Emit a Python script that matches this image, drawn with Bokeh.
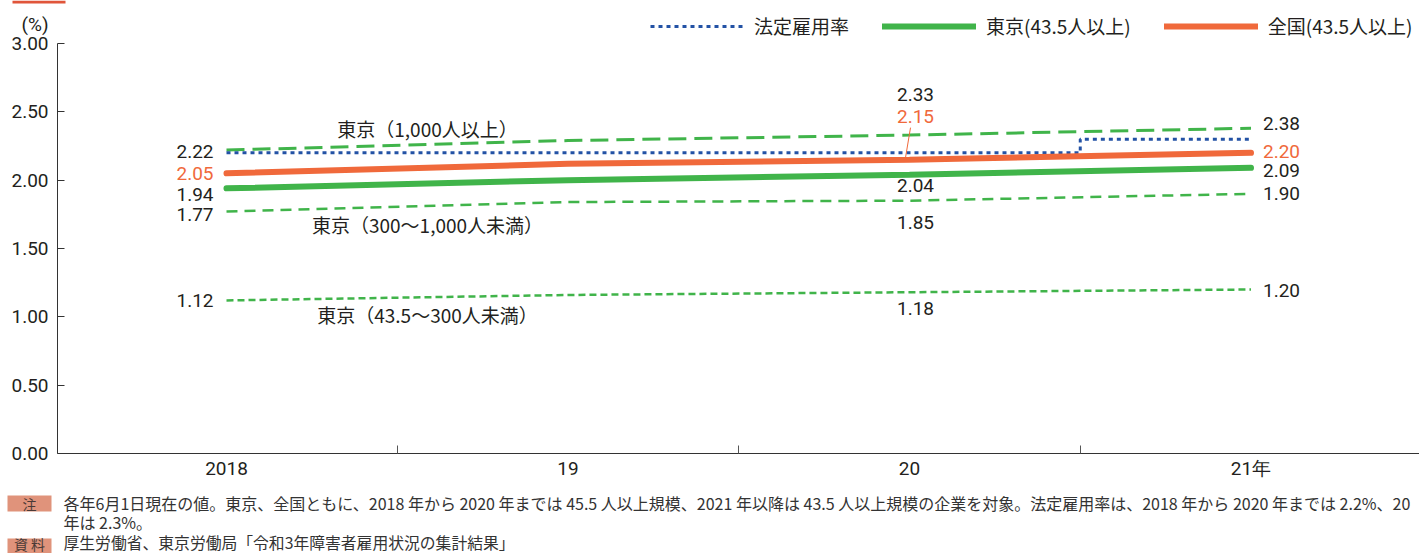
from bokeh.plotting import figure
from bokeh.models import Range1d, FixedTicker, Label, Legend, LegendItem
from bokeh.core.properties import value
from bokeh.embed import file_html
from bokeh.resources import INLINE

# ---------------- data ----------------
years = [2018, 2019, 2020, 2021]
year_labels = ["2018", "19", "20", "21年"]
legal_rate = [2.2, 2.2, 2.2, 2.3]          # 法定雇用率
tokyo_all = [1.94, 2.00, 2.04, 2.09]        # 東京(43.5人以上)
national_all = [2.05, 2.12, 2.15, 2.20]     # 全国(43.5人以上)
tokyo_1000 = [2.22, 2.29, 2.33, 2.38]       # 東京（1,000人以上）
tokyo_300_1000 = [1.77, 1.84, 1.85, 1.90]   # 東京（300～1,000人未満）
tokyo_43_300 = [1.12, 1.16, 1.18, 1.20]     # 東京（43.5～300人未満）
y_ticks = [0.0, 0.5, 1.0, 1.5, 2.0, 2.5, 3.0]
labeled_idx = [0, 2, 3]

legend_names = ["法定雇用率", "東京(43.5人以上)", "全国(43.5人以上)"]
series_names = ["東京（1,000人以上）", "東京（300～1,000人未満）", "東京（43.5～300人未満）"]
note_text_1 = ("各年6月1日現在の値。東京、全国ともに、2018 年から 2020 年までは 45.5 人以上規模、"
               "2021 年以降は 43.5 人以上規模の企業を対象。法定雇用率は、2018 年から 2020 年までは 2.2%、20")
note_text_2 = "年は 2.3%。"
source_text = "厚生労働省、東京労働局「令和3年障害者雇用状況の集計結果」"

# ---------------- style / layout ----------------
GREEN = "#40b44a"
ORANGE = "#f0693b"
BLUE = "#2352a5"
TXT = "#231f20"
NOTE = "#333333"
BOXC = "#e0937b"
NUM_FONT = "Roboto"
JP_FONT = "Noto Sans CJK JP"

W, H = 1419, 553
AXIS_X, AXIS_Y = 57, 453          # pixel position of the y axis line / x axis line
px_per_year = 341.5
px_per_unit = 410 / 3.0
X_AT_AXIS = 2018 - 169 / px_per_year


def dx(px):
    return X_AT_AXIS + (px - AXIS_X) / px_per_year


def dy(py):
    return (AXIS_Y - py) / px_per_unit


p = figure(width=W, height=H, output_backend="svg", toolbar_location=None,
           x_range=Range1d(dx(0), dx(W)), y_range=Range1d(dy(H), dy(0)),
           min_border_left=0, min_border_right=0, min_border_top=0, min_border_bottom=0)
p.outline_line_color = None
p.grid.visible = False
p.background_fill_color = "white"
p.border_fill_color = "white"

# axes (fixed inside the full-canvas frame)
ya = p.yaxis[0]
ya.fixed_location = dx(AXIS_X)
ya.ticker = FixedTicker(ticks=y_ticks)
ya.bounds = (0, 3)
ya.major_label_overrides = {t: f"{t:.2f}" for t in y_ticks}
ya.major_tick_in = 7
ya.major_tick_out = 0
ya.minor_tick_line_color = None
ya.major_label_standoff = 9
ya.axis_line_color = "#333333"
ya.major_tick_line_color = "#333333"
ya.major_label_text_font = NUM_FONT
ya.major_label_text_font_size = "19px"
ya.major_label_text_color = TXT

xa = p.xaxis[0]
xa.fixed_location = 0
xa.bounds = (dx(AXIS_X), dx(W))
xa.ticker = FixedTicker(ticks=years, minor_ticks=[y + 0.5 for y in years[:-1]])
xa.major_label_overrides = {y: l for y, l in zip(years, year_labels)}
xa.major_tick_in = 0
xa.major_tick_out = 0
xa.minor_tick_in = 8
xa.minor_tick_out = 0
xa.minor_tick_line_color = "#555555"
xa.axis_line_color = "#333333"
xa.major_label_standoff = 3
xa.major_label_text_font = NUM_FONT
xa.major_label_text_font_size = "19px"
xa.major_label_text_color = TXT

# lines
r_1000 = p.line(years, tokyo_1000, line_color=GREEN, line_width=3, line_dash="18 8")
r_300 = p.line(years, tokyo_300_1000, line_color=GREEN, line_width=2.5, line_dash="11 7")
r_43 = p.line(years, tokyo_43_300, line_color=GREEN, line_width=2.5, line_dash="7 4")
r_legal = p.step(years, legal_rate, mode="center", line_color=BLUE, line_width=3, line_dash="4 4")
r_tokyo = p.line(years, tokyo_all, line_color=GREEN, line_width=6, line_cap="round")
r_nat = p.line(years, national_all, line_color=ORANGE, line_width=6, line_cap="round")

# leader line for the 2020 national value
p.segment(x0=[years[2] - 4 / px_per_year], y0=[national_all[2] + 2 / px_per_unit],
          x1=[years[2] + 1 / px_per_year], y1=[national_all[2] + 32 / px_per_unit],
          line_color=ORANGE, line_width=1)

# value labels: (series, color, y offsets at 2018, 2020, 2021)
specs = [
    (tokyo_1000, TXT, [1, -41, -5]),
    (national_all, ORANGE, [0, -43, -1]),
    (tokyo_all, TXT, [6, 11, 3]),
    (tokyo_300_1000, TXT, [3, 22, 0]),
    (tokyo_43_300, TXT, [0, 16, 1]),
]
aligns = ["right", "center", "left"]
xoffs = [-13, 6, 12]
for vals, col, yoffs in specs:
    for k, i in enumerate(labeled_idx):
        p.text(x=[years[i]], y=[vals[i]], text=[f"{vals[i]:.2f}"],
               text_align=aligns[k], text_baseline="middle",
               x_offset=xoffs[k], y_offset=yoffs[k],
               text_font=value(NUM_FONT), text_font_size="19px", text_color=col)

# series name labels
for vals, name, yo in zip([tokyo_1000, tokyo_300_1000, tokyo_43_300], series_names, [-22, 13, 14]):
    p.text(x=[years[0]], y=[vals[0]], text=[name], text_align="center", text_baseline="middle",
           x_offset=201, y_offset=yo, text_font=value(JP_FONT), text_font_size="19px",
           text_color=TXT)

# legend
legend = Legend(items=[LegendItem(label=legend_names[0], renderers=[r_legal]),
                       LegendItem(label=legend_names[1], renderers=[r_tokyo]),
                       LegendItem(label=legend_names[2], renderers=[r_nat])],
                orientation="horizontal", location=(650, H - 39),
                glyph_width=94, glyph_height=20, label_height=20, label_standoff=10,
                spacing=33, padding=0, margin=0,
                border_line_color=None, background_fill_alpha=0,
                label_text_font=JP_FONT, label_text_font_size="19px",
                label_text_color=TXT)
p.add_layout(legend, "center")


def add_label(px, py, text, size, color, align="left", font=JP_FONT):
    p.add_layout(Label(x=dx(px), y=dy(py), text=text, text_align=align,
                       text_baseline="middle", text_font=font, text_font_size=size,
                       text_color=color))


# header tab remnant at the very top
p.quad(left=[dx(12)], right=[dx(65)], top=[dy(0)], bottom=[dy(3)],
       fill_color="#e0553a", line_color=None)

# (%) unit label
add_label(48, 24, "(%)", "19px", TXT, align="right", font=NUM_FONT)

# notes
p.quad(left=[dx(7), dx(7)], right=[dx(51), dx(51)], top=[dy(495), dy(538)],
       bottom=[dy(511), dy(553)], fill_color=BOXC, line_color=None)
add_label(29, 503, "注", "14px", "#4a3a36", align="center")
add_label(63, 502, note_text_1, "16px", NOTE)
add_label(63, 521, note_text_2, "16px", NOTE)
add_label(29, 543, "資 料", "14px", "#4a3a36", align="center")
add_label(63, 542, source_text, "15.8px", NOTE)

open("out.html", "w").write(file_html(p, INLINE))
